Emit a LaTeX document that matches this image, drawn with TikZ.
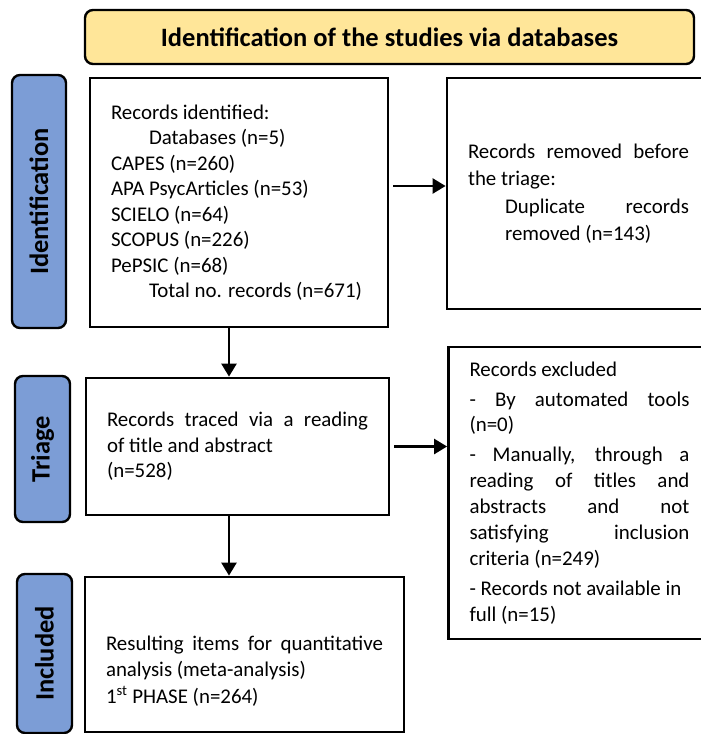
\documentclass[tikz,border=0pt]{standalone}
\usepackage{fontspec}
\setmainfont{Carlito}
\usetikzlibrary{arrows.meta}
\definecolor{hdryellow}{RGB}{255,230,153}
\definecolor{phaseblue}{RGB}{124,157,214}
\newcommand{\jline}[1]{{\spaceskip=.23em plus 1fil\relax\makebox[\linewidth][s]{#1}}}
\setlength{\parindent}{0pt}

\begin{document}
\begin{tikzpicture}[x=1pt, y=-1pt,
    box/.style={draw, line width=2.8pt, fill=white, inner xsep=21pt, inner ysep=0pt, align=left,
        font=\fontsize{20.9pt}{25.5pt}\selectfont, execute at begin node={\spaceskip=0pt\xspaceskip=0pt\relax}},
    phase/.style={draw, line width=2.4pt, rounded corners=8pt, fill=phaseblue, rotate=90, inner sep=0pt, font=\bfseries\fontsize{26.5pt}{30pt}\selectfont},
    flow/.style={->, line width=2.5pt},
    >={Triangle[length=13pt, width=15pt]}]
    \useasboundingbox (0,0) rectangle (701,734);

    \draw(389.5, 37) node [draw, line width=2.4pt, rounded corners=8pt, fill=hdryellow, minimum width=609pt, minimum height=54pt, font=\bfseries\fontsize{26.5pt}{30pt}\selectfont](title){Identification of the studies via databases};

    \draw(39, 201.5) node [phase, minimum width=253pt, minimum height=54pt](idn){Identification};
    \draw(42.5, 449) node [phase, minimum width=146pt, minimum height=55pt](tri){Triage};
    \draw(44.5, 653.5) node [phase, minimum width=159pt, minimum height=55pt](inc){Included};

    \draw(239, 202.5) node [box, text width=256pt, minimum width=298pt, minimum height=249pt](rec){Records identified:\\
        \hspace*{38pt}Databases (n=5)\\
        CAPES (n=260)\\
        APA PsycArticles (n=53)\\
        SCIELO (n=64)\\
        SCOPUS (n=226)\\
        PePSIC (n=68)\\
        \hspace*{38pt}Total no. records (n=671)};

    \draw(578.5, 193.5) node [box, text width=221pt, minimum width=263pt, minimum height=231pt](rem){\jline{Records removed before}\\[1.5pt]
        the triage:\\[2.5pt]
        \hspace*{37pt}{\spaceskip=.23em plus 1fil\relax\makebox[184pt][s]{Duplicate records}}\\[1.5pt]
        \hspace*{37pt}removed (n=143)};

    \draw(237.5, 446.5) node [box, text width=261pt, minimum width=303pt, minimum height=137pt](trc){\jline{Records traced via a reading}\\
        of title and abstract\\
        (n=528)};

    \draw(579.5, 493) node [box, text width=220pt, minimum width=262pt, minimum height=292pt](exc){Records excluded\\[4.5pt]
        \jline{- By automated tools}\\
        (n=0)\\[4.5pt]
        \jline{- Manually, through a}\\[0.5pt]
        \jline{reading of titles and}\\[0.5pt]
        \jline{abstracts and not}\\[0.5pt]
        \jline{satisfying inclusion}\\[0.5pt]
        criteria (n=249)\\[4.5pt]
        - Records not available in\\
        full (n=15)};

    \draw(244.5, 654.5) node [box, text width=277pt, minimum width=319pt, minimum height=155pt](res){\mbox{}\\[22pt]
        \jline{Resulting items for quantitative}\\[1pt]
        analysis (meta-analysis)\\[1pt]
        1\textsuperscript{st} PHASE (n=264)};

    % connectors
    \coordinate (dn) at (229, 0);
    \coordinate (rt) at (393, 186);
    \draw[flow] (rt) -- (rt -| rem.west);
    \draw[flow] (rec.south -| dn) -- (trc.north -| dn);
    \draw[flow] ([xshift=4pt]trc.east) -- (exc.west |- trc.east);
    \draw[flow] (trc.south -| dn) -- (res.north -| dn);
\end{tikzpicture}
\end{document}
